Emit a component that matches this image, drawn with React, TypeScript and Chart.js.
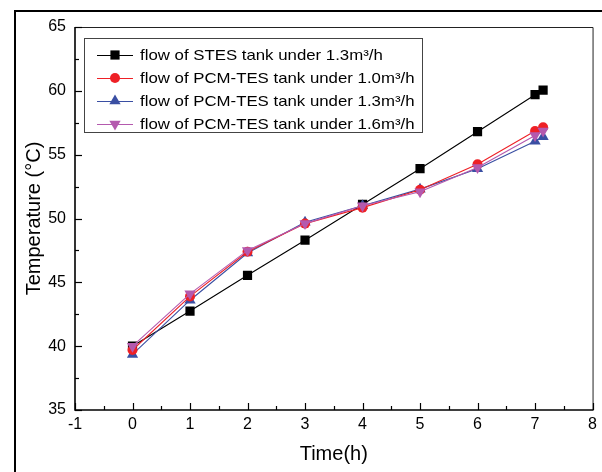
import React, { useEffect, useRef } from "react";
import { Chart, registerables } from "chart.js";
Chart.register(...registerables);

const timeH = [0, 1, 2, 3, 4, 5, 6, 7, 7.14];
const stes13 = [40.0, 42.75, 45.55, 48.3, 51.1, 53.9, 56.8, 59.7, 60.05];
const pcm10 = [39.7, 43.9, 47.4, 49.6, 50.85, 52.25, 54.25, 56.85, 57.15];
const pcm13 = [39.35, 43.6, 47.3, 49.7, 51.0, 52.3, 53.9, 56.05, 56.4];
const pcm16 = [40.0, 44.1, 47.5, 49.6, 51.0, 52.1, 54.0, 56.5, 56.85];

const seriesLabels = [
  "flow of STES tank under 1.3m³/h",
  "flow of PCM-TES tank under 1.0m³/h",
  "flow of PCM-TES tank under 1.3m³/h",
  "flow of PCM-TES tank under 1.6m³/h",
];
const seriesColors = ["#000000", "#EE2026", "#3A4FA3", "#B459AE"];
const xRange = [-1, 8];
const yRange = [35, 65];

const FONT = "'Liberation Sans', Arial, sans-serif";

const toXY = (ys: number[]) => ys.map((v, i) => ({ x: timeH[i], y: v }));

const styles = [
  { pointStyle: "rect", pointRadius: 6.5, rot: 0 },
  { pointStyle: "circle", pointRadius: 5, rot: 0 },
  { pointStyle: "triangle", pointRadius: 6.5, rot: 0 },
  { pointStyle: "triangle", pointRadius: 6.5, rot: 180 },
];

const decorPlugin = {
  id: "decor",
  afterDatasetsDraw(chart: any) {
    const { ctx, chartArea: a, scales } = chart;
    const x = scales.x;
    const y = scales.y;
    ctx.save();
    // outer figure frame
    ctx.strokeStyle = "#000";
    ctx.lineWidth = 2;
    ctx.beginPath();
    ctx.moveTo(15, 480);
    ctx.lineTo(15, 11);
    ctx.lineTo(620, 11);
    ctx.stroke();
    // top/right box lines
    ctx.lineWidth = 1;
    ctx.strokeStyle = "#222";
    ctx.beginPath();
    ctx.moveTo(a.left, a.top + 0.5);
    ctx.lineTo(a.right + 0.5, a.top + 0.5);
    ctx.lineTo(a.right + 0.5, a.bottom);
    ctx.stroke();
    // axes
    ctx.lineWidth = 1.6;
    ctx.strokeStyle = "#000";
    ctx.beginPath();
    ctx.moveTo(a.left, a.top);
    ctx.lineTo(a.left, a.bottom);
    ctx.lineTo(a.right + 1, a.bottom);
    ctx.stroke();
    // ticks (inward)
    ctx.lineWidth = 1.2;
    for (let v = xRange[0]; v <= xRange[1] + 1e-9; v += 0.5) {
      const px = Math.round(x.getPixelForValue(v)) + 0.5;
      const len = Math.abs(v - Math.round(v)) < 1e-9 ? 7 : 4;
      ctx.beginPath();
      ctx.moveTo(px, a.bottom);
      ctx.lineTo(px, a.bottom - len);
      ctx.stroke();
    }
    for (let v = yRange[0]; v <= yRange[1] + 1e-9; v += 2.5) {
      const py = Math.round(y.getPixelForValue(v)) + 0.5;
      const len = Math.abs(v / 5 - Math.round(v / 5)) < 1e-9 ? 7 : 4;
      ctx.beginPath();
      ctx.moveTo(a.left, py);
      ctx.lineTo(a.left + len, py);
      ctx.stroke();
    }
    // legend
    const lx = 84, ly = 38, lw = 338, lh = 94;
    ctx.fillStyle = "#fff";
    ctx.fillRect(lx, ly, lw, lh);
    ctx.strokeStyle = "#444";
    ctx.lineWidth = 1;
    ctx.strokeRect(lx + 0.5, ly + 0.5, lw, lh);
    const rowY = [55, 78, 101, 124];
    seriesLabels.forEach((lab, i) => {
      const cy = rowY[i];
      const col = seriesColors[i];
      ctx.strokeStyle = col;
      ctx.lineWidth = 1;
      ctx.beginPath();
      ctx.moveTo(97, cy + 0.5);
      ctx.lineTo(133, cy + 0.5);
      ctx.stroke();
      ctx.fillStyle = col;
      const st = styles[i];
      // @ts-ignore
      (Chart as any).helpers?.drawPoint;
      drawMarker(ctx, st.pointStyle, st.pointRadius, st.rot, 115, cy, col);
      ctx.save();
      ctx.translate(140, cy);
      ctx.scale(1.12, 1);
      ctx.fillStyle = "#000";
      ctx.font = `15px ${FONT}`;
      ctx.textBaseline = "middle";
      ctx.textAlign = "left";
      ctx.fillText(lab, 0, 1);
      ctx.restore();
    });
    ctx.restore();
  },
};

function drawMarker(ctx: any, style: string, r: number, rot: number, x: number, y: number, col: string) {
  ctx.save();
  ctx.fillStyle = col;
  ctx.beginPath();
  if (style === "rect") {
    const s = Math.SQRT1_2 * r;
    ctx.rect(x - s, y - s, 2 * s, 2 * s);
  } else if (style === "circle") {
    ctx.arc(x, y, r, 0, Math.PI * 2);
  } else {
    const base = (rot * Math.PI) / 180;
    for (let k = 0; k < 3; k++) {
      const ang = base - Math.PI / 2 + (k * 2 * Math.PI) / 3;
      const px = x + Math.cos(ang) * r;
      const py = y + Math.sin(ang) * r;
      if (k === 0) ctx.moveTo(px, py);
      else ctx.lineTo(px, py);
    }
    ctx.closePath();
  }
  ctx.fill();
  ctx.restore();
}

export default function App() {
  const ref = useRef<HTMLCanvasElement | null>(null);
  useEffect(() => {
    if (!ref.current) return;
    const all = [stes13, pcm10, pcm13, pcm16];
    const orders = [4, 2, 3, 1];
    const chart = new Chart(ref.current, {
      type: "line",
      data: {
        datasets: all.map((ys, i) => ({
          label: seriesLabels[i],
          data: toXY(ys),
          borderColor: seriesColors[i],
          backgroundColor: seriesColors[i],
          pointBackgroundColor: seriesColors[i],
          pointBorderColor: seriesColors[i],
          pointBorderWidth: 0,
          borderWidth: 1.1,
          pointStyle: styles[i].pointStyle as any,
          pointRadius: styles[i].pointRadius,
          pointRotation: styles[i].rot,
          tension: 0,
          order: orders[i],
        })),
      },
      options: {
        animation: false,
        responsive: false,
        devicePixelRatio: 1,
        layout: { padding: { left: 0, top: 27, right: 9, bottom: 0 } },
        plugins: { legend: { display: false }, tooltip: { enabled: false } },
        scales: {
          x: {
            type: "linear",
            min: xRange[0],
            max: xRange[1],
            grid: { display: false, drawTicks: false },
            border: { display: false },
            ticks: { stepSize: 1, color: "#000", font: { family: FONT, size: 16 }, padding: 5 },
            title: {
              display: true,
              text: "Time(h)",
              color: "#000",
              font: { family: FONT, size: 20 },
              padding: { top: 0, bottom: 6 },
            },
            afterFit: (s: any) => {
              s.height = 62;
            },
          },
          y: {
            type: "linear",
            min: yRange[0],
            max: yRange[1],
            grid: { display: false, drawTicks: false },
            border: { display: false },
            ticks: { stepSize: 5, color: "#000", font: { family: FONT, size: 16 }, padding: 9 },
            title: {
              display: true,
              text: "Temperature (°C)",
              color: "#000",
              font: { family: FONT, size: 20 },
              padding: { top: 22, bottom: 0 },
            },
            afterFit: (s: any) => {
              s.width = 75;
            },
          },
        },
      },
      plugins: [decorPlugin],
    });
    return () => chart.destroy();
  }, []);
  return (
    <div style={{ position: "fixed", left: 0, top: 0, width: 602, height: 472, background: "#fff" }}>
      <canvas ref={ref} width={602} height={472} style={{ display: "block" }} />
    </div>
  );
}
